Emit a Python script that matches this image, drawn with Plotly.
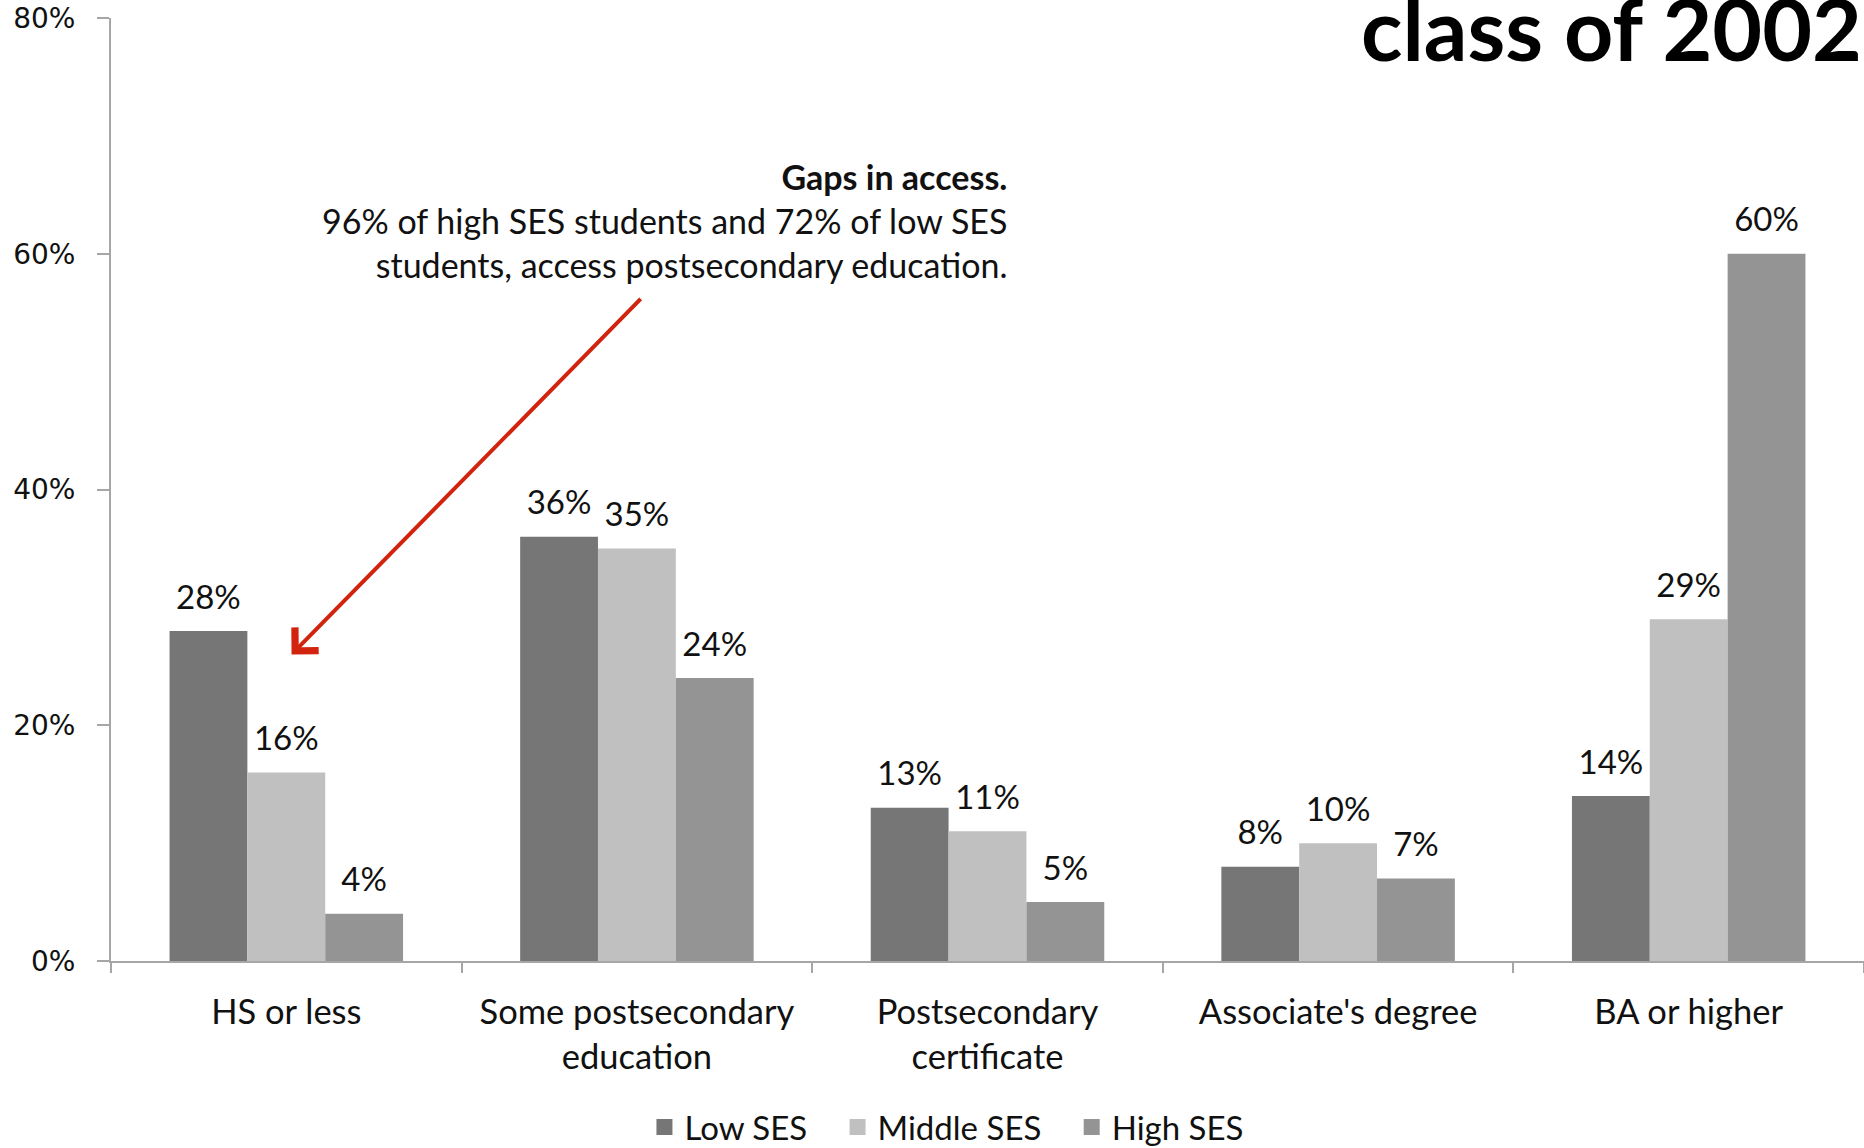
import plotly.graph_objects as go

categories = ["HS or less", "Some postsecondary<br>education", "Postsecondary<br>certificate",
              "Associate's degree", "BA or higher"]
low_ses = [28, 36, 13, 8, 14]
middle_ses = [16, 35, 11, 10, 29]
high_ses = [4, 24, 5, 7, 60]
series_names = ["Low SES", "Middle SES", "High SES"]
series_colors = ["#767676", "#c0c0c0", "#949494"]
y_ticks = [0, 20, 40, 60, 80]
y_tick_text = ["0%", "20%", "40%", "60%", "80%"]

TXT = "Lato, 'Open Sans', sans-serif"
NB = "\u00a0\u00a0\u00a0"

fig = go.Figure()
for i, (name, vals, col) in enumerate(zip(series_names, [low_ses, middle_ses, high_ses], series_colors)):
    fig.add_trace(go.Bar(
        name=name, x=categories, y=vals, marker=dict(color=col, line=dict(width=0)),
        offsetgroup=str(i), showlegend=False,
    ))
for i, (name, vals, col) in enumerate(zip(series_names, [low_ses, middle_ses, high_ses], series_colors)):
    fig.add_trace(go.Scatter(
        x=categories, y=vals, mode="markers+text", offsetgroup=str(i),
        marker=dict(size=21, color=col, opacity=0), text=[f"{v}%" for v in vals],
        textposition="top center", textfont=dict(family=TXT, size=33, color="#111"),
        showlegend=False, hoverinfo="skip", cliponaxis=False,
    ))
for name, col in zip(series_names, series_colors):
    fig.add_trace(go.Scatter(
        name=name + NB, x=[None], y=[None], mode="markers",
        marker=dict(symbol="square", size=20, color=col), showlegend=True,
    ))

fig.update_layout(
    width=1864, height=1148,
    margin=dict(l=111, r=0, t=18, b=187, autoexpand=False),
    plot_bgcolor="white", paper_bgcolor="white",
    barmode="group", bargap=0.334, bargroupgap=0,
    scattermode="group", scattergap=0.334,
    font=dict(family=TXT, size=32, color="#111"),
    showlegend=True,
    legend=dict(orientation="h", x=0.484, xanchor="center", y=-0.176, yanchor="middle",
                font=dict(family=TXT, size=33, color="#111"), itemwidth=30),
    xaxis=dict(showline=True, linecolor="#a6a6a6", linewidth=2, ticks="outside",
               tickson="boundaries", ticklen=10, tickcolor="#a6a6a6", tickwidth=2,
               tickfont=dict(family=TXT, size=34.5, color="#111"), showgrid=False,
               automargin=False, ticklabelstandoff=20),
    yaxis=dict(range=[0, 80], tickvals=y_ticks, ticktext=y_tick_text, showline=True,
               linecolor="#a6a6a6", linewidth=2, ticks="outside", ticklen=12,
               tickcolor="#a6a6a6", tickwidth=2, showgrid=False, zeroline=False,
               tickfont=dict(family="DejaVu Sans", size=28, color="#111"),
               ticklabelstandoff=16, automargin=False),
)

fig.add_annotation(
    text="<b>class of 2002</b>", xref="paper", yref="paper", x=1.0, y=1.0,
    xanchor="right", yanchor="middle", showarrow=False, yshift=-9,
    font=dict(family=TXT, size=86, color="black"),
)

fig.add_annotation(
    text="<b>Gaps in access.</b><br>96% of high SES students and 72% of low SES<br>students, access postsecondary education.",
    xref="paper", yref="paper", x=(1009 - 111) / 1753, y=(960.6 - 220) / 942.8,
    xanchor="right", yanchor="middle", align="right", showarrow=False,
    font=dict(family=TXT, size=34, color="#111"),
)

fig.add_annotation(
    x=0.015, y=26.0, ax=1.015, ay=56.3, xref="x", yref="y", axref="x", ayref="y",
    text="", showarrow=True, arrowhead=4, arrowsize=1.6, arrowwidth=4, arrowcolor="#d2230e",
)

fig.write_html("out.html", config={"displayModeBar": False},
               post_script="document.body.style.margin='0';")
